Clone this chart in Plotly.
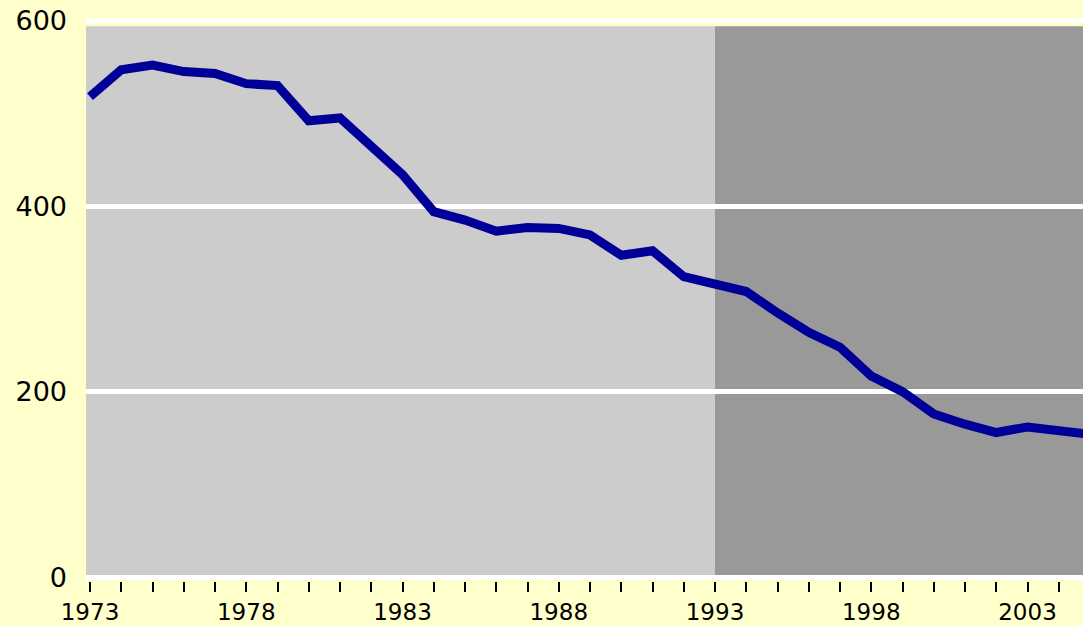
import plotly.graph_objects as go

years = list(range(1973, 2006))
values = [518, 547, 552, 545, 543, 532, 530, 492, 495, 463, 434, 394, 385, 373,
          377, 376, 369, 347, 352, 324, 316, 308, 285, 264, 248, 217, 200, 176,
          165, 156, 162, 158, 154]
y_ticks = [0, 200, 400, 600]
split_year = 1993

x_lo, x_hi = 1972.872, 2004.776
band_top = 594

fig = go.Figure()
fig.add_trace(go.Scatter(x=years, y=values, mode='lines',
                         line=dict(color='#000099', width=9), hoverinfo='skip'))

fig.add_shape(type='rect', xref='x', yref='y', x0=x_lo, x1=split_year, y0=0, y1=band_top,
              fillcolor='#CCCCCC', line=dict(width=0), layer='below')
fig.add_shape(type='rect', xref='x', yref='y', x0=split_year, x1=x_hi + 1, y0=0, y1=band_top,
              fillcolor='#999999', line=dict(width=0), layer='below')

fig.update_layout(
    width=1083, height=626,
    margin=dict(l=86, r=0, t=15, b=45),
    paper_bgcolor='#FFFFCC', plot_bgcolor='#FFFFCC',
    showlegend=False,
    font=dict(family='DejaVu Sans', size=25, color='black'),
)
fig.update_xaxes(range=[x_lo, x_hi], tick0=1973, dtick=5, ticks='outside', ticklen=10,
                 tickwidth=2, tickcolor='black', showgrid=False, zeroline=False, showline=False,
                 minor=dict(tick0=1973, dtick=1, ticks='outside', ticklen=10, tickwidth=2,
                            tickcolor='black', showgrid=False),
                 ticklabelstandoff=0, automargin=False, tickfont=dict(size=23))
fig.update_yaxes(range=[-4, 606], tickvals=y_ticks, showgrid=True, gridcolor='white',
                 gridwidth=5, zeroline=False, showline=False, ticks='', ticklabelstandoff=18,
                 automargin=False, tickfont=dict(size=27))

# drop the browser's default page margin so the figure sits at 0,0
fig.write_html("out.html", post_script="document.body.style.margin='0';",
               config={'displayModeBar': False})
